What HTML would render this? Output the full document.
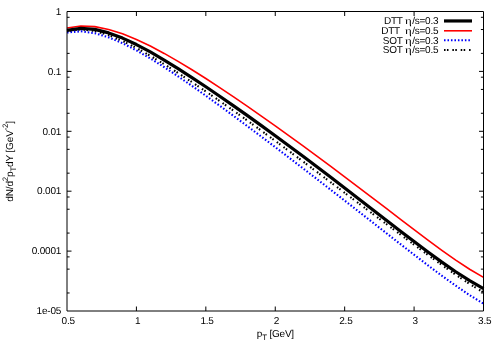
<!DOCTYPE html>
<html><head><meta charset="utf-8"><title>plot</title>
<style>
html,body{margin:0;padding:0;background:#fff;}
body{width:500px;height:350px;overflow:hidden;}
svg{display:block;will-change:transform;}
text{font-family:"Liberation Sans",sans-serif;fill:#000;text-rendering:geometricPrecision;}
.sy{font-family:"Liberation Serif",serif;}
</style></head><body>
<svg width="500" height="350" viewBox="0 0 500 350">
<rect width="500" height="350" fill="#fff"/>
<g fill="none" stroke-linejoin="round">
<polyline points="67.00,27.99 80.88,25.96 94.77,26.63 108.65,29.41 122.53,33.80 136.42,39.45 150.30,46.07 164.18,53.43 178.07,61.38 191.95,69.78 205.83,78.54 219.72,87.60 233.60,96.90 247.48,106.41 261.37,116.08 275.25,125.91 289.13,135.87 303.02,145.94 316.90,156.13 330.78,166.42 344.67,176.81 358.55,187.28 372.43,197.83 386.32,208.43 400.20,219.05 414.08,229.64 427.97,240.11 441.85,250.33 455.73,260.13 469.62,269.27 483.50,277.41" stroke="#ff0000" stroke-width="1.6"/>
<polyline points="67.00,30.31 80.88,28.30 94.77,29.42 108.65,32.88 122.53,38.08 136.42,44.55 150.30,51.96 164.18,60.04 178.07,68.62 191.95,77.57 205.83,86.79 219.72,96.24 233.60,105.88 247.48,115.68 261.37,125.63 275.25,135.72 289.13,145.95 303.02,156.30 316.90,166.77 330.78,177.33 344.67,187.99 358.55,198.71 372.43,209.47 386.32,220.24 400.20,230.97 414.08,241.60 427.97,252.03 441.85,262.14 455.73,271.77 469.62,280.69 483.50,288.60" stroke="#000" stroke-width="3.2"/>
<polyline points="67.00,32.49 80.88,31.31 94.77,33.18 108.65,37.34 122.53,43.21 136.42,50.34 150.30,58.39 164.18,67.11 178.07,76.32 191.95,85.88 205.83,95.71 219.72,105.74 233.60,115.93 247.48,126.24 261.37,136.65 275.25,147.15 289.13,157.73 303.02,168.37 316.90,179.07 330.78,189.82 344.67,200.61 358.55,211.43 372.43,222.28 386.32,233.12 400.20,243.95 414.08,254.71 427.97,265.34 441.85,275.72 455.73,285.73 469.62,295.13 483.50,303.65" stroke="#0000ff" stroke-width="2.1" stroke-dasharray="1.55 1.93"/>
<polyline points="67.00,31.01 80.88,29.28 94.77,30.97 108.65,35.10 122.53,40.94 136.42,47.96 150.30,55.80 164.18,64.19 178.07,72.99 191.95,82.09 205.83,91.44 219.72,100.99 233.60,110.73 247.48,120.64 261.37,130.70 275.25,140.88 289.13,151.16 303.02,161.52 316.90,171.93 330.78,182.36 344.67,192.79 358.55,203.22 372.43,213.63 386.32,224.02 400.20,234.38 414.08,244.68 427.97,254.91 441.85,264.97 455.73,274.74 469.62,283.99 483.50,292.40" stroke="#000" stroke-width="2.1" stroke-dasharray="1.55 1.4 1.55 3.85"/>
</g>
<g stroke="#000" stroke-width="1" fill="none">
<path d="M67.0,11.5H483.5V311.0H67.0Z"/>
<path d="M136.42,311.0v-4.5M136.42,11.5v4.5M205.83,311.0v-4.5M205.83,11.5v4.5M275.25,311.0v-4.5M275.25,11.5v4.5M344.67,311.0v-4.5M344.67,11.5v4.5M414.08,311.0v-4.5M414.08,11.5v4.5M67.0,17.30h2.6M483.5,17.30h-2.6M67.0,29.53h2.6M483.5,29.53h-2.6M67.0,53.37h2.6M483.5,53.37h-2.6M67.0,71.40h4.5M483.5,71.40h-4.5M67.0,77.20h2.6M483.5,77.20h-2.6M67.0,89.43h2.6M483.5,89.43h-2.6M67.0,113.27h2.6M483.5,113.27h-2.6M67.0,131.30h4.5M483.5,131.30h-4.5M67.0,137.10h2.6M483.5,137.10h-2.6M67.0,149.33h2.6M483.5,149.33h-2.6M67.0,173.17h2.6M483.5,173.17h-2.6M67.0,191.20h4.5M483.5,191.20h-4.5M67.0,197.00h2.6M483.5,197.00h-2.6M67.0,209.23h2.6M483.5,209.23h-2.6M67.0,233.07h2.6M483.5,233.07h-2.6M67.0,251.10h4.5M483.5,251.10h-4.5M67.0,256.90h2.6M483.5,256.90h-2.6M67.0,269.13h2.6M483.5,269.13h-2.6M67.0,292.97h2.6M483.5,292.97h-2.6"/>
</g>
<g font-size="10.0" letter-spacing="-0.21">
<text x="68.20" y="324.2" text-anchor="middle">0.5</text>
<text x="137.62" y="324.2" text-anchor="middle">1</text>
<text x="207.03" y="324.2" text-anchor="middle">1.5</text>
<text x="276.45" y="324.2" text-anchor="middle">2</text>
<text x="345.87" y="324.2" text-anchor="middle">2.5</text>
<text x="415.28" y="324.2" text-anchor="middle">3</text>
<text x="484.70" y="324.2" text-anchor="middle">3.5</text>
<text x="61.1" y="14.70" text-anchor="end">1</text>
<text x="61.1" y="74.60" text-anchor="end">0.1</text>
<text x="61.1" y="134.50" text-anchor="end">0.01</text>
<text x="61.1" y="194.40" text-anchor="end">0.001</text>
<text x="61.1" y="254.30" text-anchor="end">0.0001</text>
<text x="61.1" y="314.20" text-anchor="end">1e-05</text>
<text x="402.7" y="24.10" text-anchor="end">DTT</text>
<text class="sy" transform="translate(404.9,24.10) scale(1.3,1)">η</text>
<text x="438.4" y="24.10" text-anchor="end">/s=0.3</text>
<text x="400.0" y="33.80" text-anchor="end">DTT</text>
<text class="sy" transform="translate(404.9,33.80) scale(1.3,1)">η</text>
<text x="438.4" y="33.80" text-anchor="end">/s=0.5</text>
<text x="402.7" y="43.50" text-anchor="end">SOT</text>
<text class="sy" transform="translate(404.9,43.50) scale(1.3,1)">η</text>
<text x="438.4" y="43.50" text-anchor="end">/s=0.3</text>
<text x="402.7" y="53.20" text-anchor="end">SOT</text>
<text class="sy" transform="translate(404.9,53.20) scale(1.3,1)">η</text>
<text x="438.4" y="53.20" text-anchor="end">/s=0.5</text>
<text x="275.4" y="336.8" text-anchor="middle">p<tspan dy="3.2" font-size="7.9">T</tspan><tspan dy="-3.2"> [GeV]</tspan></text>
<text transform="translate(13.3,161.4) rotate(-90)" text-anchor="middle" letter-spacing="-0.15">dN/d<tspan dy="-5" font-size="7.8">2</tspan><tspan dy="5">p</tspan><tspan dy="2.9" font-size="7.9">T</tspan><tspan dy="-2.9">dY [GeV</tspan><tspan dy="-5" font-size="7.8">-2</tspan><tspan dy="5">]</tspan></text>
</g>
<g fill="none">
<path d="M444,20.95H472" stroke="#000" stroke-width="3.2"/>
<path d="M444,30.8H472" stroke="#ff0000" stroke-width="1.6"/>
<path d="M444,40.25H471.6" stroke="#0000ff" stroke-width="2.1" stroke-dasharray="1.55 1.93"/>
<path d="M444,50H472" stroke="#000" stroke-width="2.1" stroke-dasharray="1.55 1.4 1.55 3.85"/>
</g>
</svg>
</body></html>
